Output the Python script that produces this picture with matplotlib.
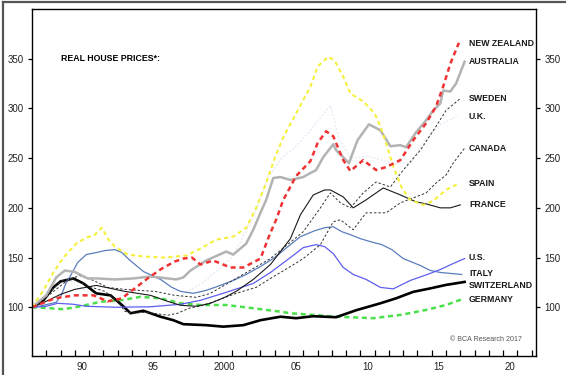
import matplotlib.pyplot as plt
from matplotlib.lines import Line2D

plt.rcParams['font.family'] = ['Liberation Sans', 'DejaVu Sans']

# Series values (year, index 1987 = 100)
nz_years = [1987, 1988.6, 1990, 1991.3, 1992.3, 1993.3, 1994.2, 1995.1, 1996.1, 1997, 1997.6, 1998.2,
            1998.8, 1999.7, 2000.9, 2001.8, 2003.0, 2003.7, 2004.1, 2004.6, 2005.5, 2006.5, 2007.0,
            2007.6, 2008.1, 2008.8, 2009.3, 2010.2, 2011.1, 2011.8, 2012.8, 2013.7, 2014.6, 2015.3,
            2015.8, 2016.3, 2016.9]
nz_vals = [100, 109, 112, 112, 106, 109, 119, 129, 139, 146, 149, 150,
           143, 147, 140, 140, 149, 175, 188, 208, 232, 247, 265,
           277, 272, 248, 237, 248, 238, 241, 248, 268, 285, 302,
           322, 345, 366]

aus_years = [1987, 1988, 1988.7, 1989.3, 1990.0, 1990.9, 1991.6, 1992.8, 1994.1, 1995.3, 1996.5, 1997.1,
             1997.6, 1998.1, 1999.2, 2000.6, 2001.1, 2002.0, 2002.5, 2003.0, 2003.4, 2003.9, 2004.4,
             2005.1, 2006.0, 2006.5, 2006.9, 2007.4, 2008.1, 2008.3, 2009.2, 2009.8, 2010.6, 2011.4,
             2012.1, 2012.8, 2013.2, 2013.9, 2014.6, 2015.1, 2015.6, 2015.8, 2016.3, 2016.7, 2017.3]
aus_vals = [100, 112, 130, 137, 135.5, 129, 129, 128, 129, 131, 129, 128,
            130, 137, 147, 156, 153, 164, 178, 195, 208, 230, 231,
            228, 231, 235, 238, 251, 264, 258, 245, 268, 284, 278,
            262, 263, 261, 276, 288, 298, 305, 318, 317, 325, 347]

spain_years = [1987, 1987.8, 1988.5, 1989.2, 1990.1, 1990.8, 1991.4, 1991.9, 1992.3, 1992.8, 1993.7,
               1994.9, 1996.2, 1997.8, 1998.8, 1999.9, 2001.1, 2002.0, 2002.7, 2003.4, 2004.0, 2004.6,
               2005.5, 2006.5, 2007.0, 2007.75, 2008.2, 2008.8, 2009.3, 2010.2, 2011.0, 2011.4, 2011.8,
               2012.3, 2012.9, 2013.5, 2014.4, 2015.1, 2016.0, 2016.8]
spain_vals = [100, 117, 135, 150, 164, 170, 173, 180, 169, 161, 153,
              151, 150, 152, 159, 168, 171, 180, 200, 225, 250, 271,
              295, 322, 342, 352, 348, 332, 315, 307, 295, 282, 265,
              242, 220, 208, 203, 207, 218, 224]

uk_years = [1987, 1988.5, 1989.5, 1991, 1993, 1995.5, 1997, 1999, 2001, 2002.5, 2003.5, 2004.5, 2005.5,
            2006.5, 2007.9, 2008.5, 2009.3, 2010.5, 2012.3, 2013.5, 2014.5, 2015.5, 2016.8]
uk_vals = [100, 118, 128, 115, 103, 100, 108, 125, 150, 190, 230, 250, 262,
           278, 303, 270, 250, 252, 245, 245, 268, 283, 292]

sweden_years = [1987, 1988, 1989.3, 1990.3, 1991.3, 1992.3, 1993.5, 1994.5, 1995.6, 1997, 1998.5, 1999.5,
                2001.3, 2003.7, 2006, 2007.2, 2007.9, 2008.6, 2009.3, 2010.2, 2011.1, 2012.1, 2013,
                2014.2, 2015.3, 2016, 2017]
sweden_vals = [100, 110, 125, 132, 127, 120, 118, 117, 116, 112, 110, 114,
               129, 149, 176, 200, 215, 205, 200, 215, 226, 221, 238,
               258, 282, 298, 310]

canada_years = [1987, 1988, 1989, 1989.75, 1990.2, 1991.4, 1992.1, 1993, 1993.5, 1994, 1995, 1996.5,
                1997.2, 1998, 1999, 2000, 2001.3, 2002.7, 2003.7, 2005.1, 2006, 2007.2, 2008.1,
                2008.6, 2009.5, 2010.4, 2011.8, 2012.8, 2014.6, 2015.3, 2016, 2016.5, 2017.3]
canada_vals = [100, 112, 126, 129, 126, 119, 116, 106, 96, 94, 95, 92,
               94, 99, 102, 107, 114, 120, 129, 141, 149, 163, 186,
               188, 178, 195, 195, 205, 215, 225, 233, 245, 260]

france_years = [1987, 1988, 1989, 1990, 1991.5, 1992.5, 1993.5, 1995.3, 1996.5, 1997.4, 1998.5, 1999.5,
                2000.5, 2001.3, 2002.5, 2003.7, 2005.1, 2005.8, 2006.7, 2007.5, 2007.9, 2008.8, 2009.5,
                2010.4, 2011.6, 2012.8, 2013.9, 2014.6, 2015.6, 2016.3, 2017.0]
france_vals = [100, 106, 113, 118, 122, 119, 116, 112, 106, 102, 101, 104,
               110, 116, 128, 143, 169, 193, 213, 218, 218, 211, 200,
               208, 220, 213, 206, 204, 200, 200, 203]

us_years = [1987, 1988, 1988.8, 1989.9, 1990.8, 1992.9, 1995.3, 1997.4, 1998.8, 2000.6, 2002.5, 2003.7,
            2005.1, 2006.0, 2006.9, 2007.5, 2008.1, 2008.8, 2009.5, 2010.4, 2011.4, 2012.3, 2013.5,
            2014.6, 2015.6, 2016.5, 2017.3]
us_vals = [100, 101, 104, 103, 101, 100, 100.5, 103, 107, 115, 124, 135,
           150, 160, 163, 161, 154, 140, 133, 128, 120, 118.5, 127,
           132.5, 138, 144, 149]

italy_years = [1987, 1987.5, 1988.1, 1988.7, 1989.05, 1989.4, 1989.75, 1990.2, 1990.8, 1991.5, 1992.1,
               1992.8, 1993.3, 1993.8, 1994.8, 1996.0, 1996.8, 1997.4, 1998.3, 1999.2, 2000, 2001.1,
               2002, 2003.0, 2004, 2005.1, 2005.8, 2006.8, 2007.5, 2008.1, 2008.7, 2009.3, 2010.0,
               2010.7, 2011.5, 2012.2, 2013.0, 2014.2, 2014.9, 2015.6, 2017.1]
italy_vals = [100, 101, 103, 105, 112, 125, 133, 145, 153, 155, 157,
              158, 155, 148, 136, 128, 120, 116, 114, 117, 121, 127,
              133, 141, 150, 163, 171, 177, 180, 181, 176, 173, 169,
              166, 163, 158, 149, 142, 137, 135, 133]

swiss_years = [1987, 1987.8, 1988.5, 1989.0, 1989.9, 1990.6, 1991.5, 1992.5, 1993.4, 1993.9, 1994.8,
               1996.0, 1996.9, 1997.6, 1999.2, 2000.4, 2001.8, 2003.0, 2004.4, 2005.5, 2006.7, 2008.3,
               2009.7, 2011.4, 2012.5, 2013.7, 2014.9, 2016.0, 2017.3]
swiss_vals = [100, 107, 120, 126, 129, 124, 114, 112, 101, 94, 96.5,
              90.5, 87, 83, 82, 80.5, 82, 87, 90.5, 89, 91, 90,
              97, 104, 109, 115.5, 119, 122.5, 125.5]

germany_years = [1987, 1988.3, 1989.2, 1990.4, 1991.8, 1993.2, 1994.6, 1996.0, 1997.4, 1998.8, 2000.6,
                 2002.5, 2004.4, 2005.1, 2006.7, 2008.3, 2010.9, 2012.8, 2014.6, 2016.0, 2017.1]
germany_vals = [100, 99, 98, 101, 105.5, 107, 110.5, 109, 104, 102.3, 102.3,
                99, 95.6, 94, 92.3, 90.5, 89, 92.3, 97.3, 102.3, 108]

# Right-hand labels (text, y position in data units)
label_names = ["NEW ZEALAND", "AUSTRALIA", "SWEDEN", "U.K.", "CANADA", "SPAIN", "FRANCE",
               "U.S.", "ITALY", "SWITZERLAND", "GERMANY"]
label_vals = [365, 347, 310, 292, 260, 224, 203, 150, 134, 122, 108]

year_labels = ["90", "95", "2000", "05", "10", "15", "20"]
year_label_pos = [1990, 1995, 2000, 2005, 2010, 2015, 2020]
y_ticks = [100, 150, 200, 250, 300, 350]


def make_chart():
    fig = plt.figure(figsize=(5.66, 3.75), dpi=100)
    ax = fig.add_axes([0.0565, 0.0507, 0.8905, 0.9253])

    # draw back to front
    ax.plot(uk_years, uk_vals, color='#e6e6f6', lw=0.9, ls=(0, (1.5, 1.5)))
    ax.plot(germany_years, germany_vals, color='#4be04b', lw=1.8, ls=(0, (2, 1.5)))
    ax.plot(swiss_years, swiss_vals, color='black', lw=1.9)
    ax.plot(italy_years, italy_vals, color='#5b7dbd', lw=0.9)
    ax.plot(us_years, us_vals, color='#5e5ef0', lw=0.9)
    ax.plot(canada_years, canada_vals, color='#333333', lw=0.7, ls=(0, (2.5, 2)))
    ax.plot(sweden_years, sweden_vals, color='#333333', lw=0.7, ls=(0, (2.5, 2)))
    ax.plot(france_years, france_vals, color='#1a1a1a', lw=0.8)
    ax.plot(aus_years, aus_vals, color='#b3b3b3', lw=1.8)
    ax.plot(spain_years, spain_vals, color='#f5f03c', lw=1.5, ls=(0, (2, 1.6)))
    ax.plot(nz_years, nz_vals, color='#f03232', lw=1.8, ls=(0, (2, 1.5)))

    ax.set_xlim(1987, 2022.3)
    ax.set_ylim(51, 400)

    # year ticks inside, labels centred mid-year
    ax.set_xticks(range(1988, 2023), minor=True)
    ax.set_xticks([y + 0.5 for y in year_label_pos])
    ax.set_xticklabels(year_labels)
    ax.tick_params(axis='x', which='minor', direction='in', length=4.5, width=0.9, color='black')
    ax.tick_params(axis='x', which='major', length=0, labelsize=7, pad=4, labelcolor='#222222')

    ax.set_yticks(y_ticks)
    ax.tick_params(axis='y', direction='out', length=3, width=0.9, right=True, labelright=True,
                   labelsize=7, pad=3, labelcolor='#222222')

    for s in ax.spines.values():
        s.set_linewidth(1.0)

    ax.text(1989.0, 350, "REAL HOUSE PRICES*:", fontsize=6.3, fontweight='bold', va='center')
    for name, val in zip(label_names, label_vals):
        ax.text(2017.6, val, name, fontsize=6.3, fontweight='bold', va='center', color='#1a1a1a')
    ax.text(2021.3, 68, "\u00a9 BCA Research 2017", fontsize=5.1, color='#555555', ha='right', va='center')

    # outer frame of the original exhibit
    fig.add_artist(Line2D([0.006, 0.006], [0, 0.995], transform=fig.transFigure, color='#555555', lw=1.6))
    fig.add_artist(Line2D([0.006, 1.0], [0.995, 0.995], transform=fig.transFigure, color='#555555', lw=1.6))

    fig.savefig("out.png", dpi=100)


if __name__ == "__main__":
    make_chart()
